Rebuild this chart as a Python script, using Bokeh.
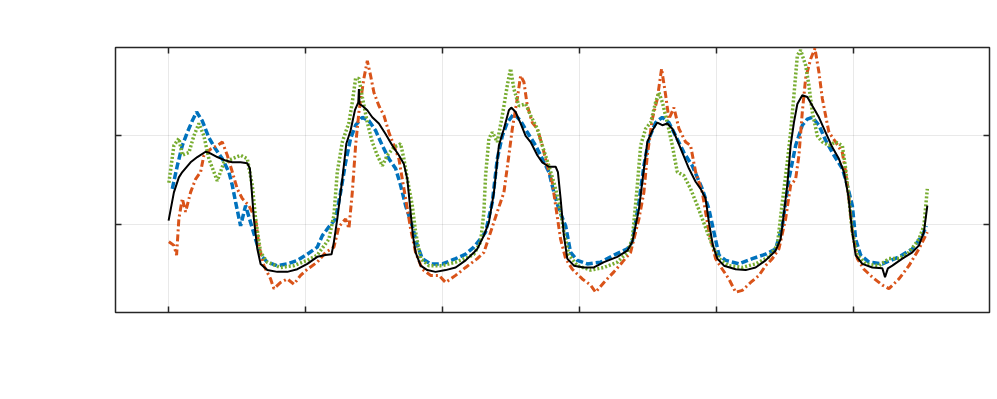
from bokeh.plotting import figure
from bokeh.models import Range1d, LinearAxis, FixedTicker, CustomJSTickFormatter
from bokeh.embed import file_html
from bokeh.resources import INLINE

# ---- data (hours, relative value) ----
x_ticks = [0, 24, 48, 72, 96, 120]
y_ticks = [1, 2]

meas_x = [0.0, 0.93, 1.80, 2.40, 3.85, 5.03, 6.48, 7.06, 8.53, 9.99, 11.16, 12.61, 13.79,
          14.24, 14.54, 14.94, 15.54, 16.12, 17.29, 19.04, 20.79, 22.55, 24.30, 26.05,
          27.50, 28.55, 28.96, 29.55, 30.43, 31.13, 31.88, 32.64, 33.23, 33.34, 33.45, 33.93,
          34.81, 35.68, 36.84, 38.01, 39.19, 40.34, 41.22, 41.82, 42.39, 42.80, 43.27,
          44.15, 45.32, 46.77, 48.53, 50.28, 52.03, 53.48, 54.08, 55.23, 56.11, 56.99,
          57.86, 58.74, 59.61, 60.03, 60.79, 61.66, 62.54, 63.42, 64.59, 65.46, 66.62,
          67.80, 68.20, 68.67, 69.25, 69.84, 71.00, 72.75, 74.50, 76.26, 78.60, 80.36,
          81.23, 82.39, 83.26, 83.86, 84.73, 85.61, 86.49, 87.36, 88.24, 89.11, 89.99,
          91.15, 92.32, 93.20, 94.07, 94.65, 95.35, 96.12, 97.28, 99.33, 101.08, 102.83,
          104.58, 106.33, 107.21, 107.51, 108.38, 108.96, 109.54, 110.14, 111.01, 111.89,
          112.76, 113.92, 115.09, 116.27, 117.42, 118.30, 119.07, 119.77, 120.35, 121.52,
          123.27, 125.03, 125.5, 126.0, 126.78, 128.53, 130.28, 131.44, 132.31, 132.91]
meas_y = [1.04, 1.36, 1.53, 1.59, 1.70, 1.76, 1.82, 1.81, 1.76, 1.72, 1.70, 1.70, 1.69,
          1.63, 1.40, 1.06, 0.72, 0.55, 0.48, 0.46, 0.46, 0.49, 0.55, 0.63,
          0.65, 0.66, 0.80, 1.06, 1.51, 1.91, 2.06, 2.29, 2.38, 2.53, 2.36, 2.34,
          2.29, 2.21, 2.14, 2.02, 1.89, 1.78, 1.68, 1.51, 1.14, 0.87, 0.68,
          0.53, 0.48, 0.46, 0.48, 0.51, 0.59, 0.68, 0.72, 0.87, 1.02, 1.36,
          1.89, 2.08, 2.29, 2.32, 2.27, 2.14, 2.00, 1.93, 1.78, 1.70, 1.65,
          1.65, 1.59, 1.29, 0.87, 0.61, 0.53, 0.51, 0.51, 0.57, 0.63, 0.70,
          0.80, 1.17, 1.63, 1.93, 2.06, 2.15, 2.12, 2.14, 2.08, 1.95, 1.81,
          1.63, 1.48, 1.40, 1.29, 1.02, 0.76, 0.61, 0.53, 0.49, 0.48, 0.51,
          0.59, 0.70, 0.83, 0.98, 1.44, 1.89, 2.15, 2.36, 2.46, 2.44,
          2.34, 2.21, 2.04, 1.87, 1.74, 1.59, 1.32, 0.91, 0.65, 0.55,
          0.51, 0.50, 0.40, 0.50, 0.53, 0.61, 0.68, 0.76, 0.91, 1.21]

blue_x = [0.65, 1.52, 2.40, 3.28, 4.15, 4.91, 5.90, 7.06, 8.23, 9.41, 10.56, 11.16, 11.74,
          12.61, 13.49, 14.36, 15.24, 16.12, 17.29, 19.04, 20.79, 22.55, 24.30, 26.05,
          26.93, 28.08, 29.26, 30.13, 31.01, 31.88, 32.76, 33.93, 35.09, 36.26, 37.44,
          38.59, 39.77, 40.64, 41.52, 42.69, 43.57, 44.44, 45.90, 47.95, 50.28, 52.03,
          53.48, 55.53, 56.71, 57.58, 58.46, 59.33, 60.49, 61.66, 62.84, 64.29, 65.46,
          66.62, 67.50, 68.37, 69.55, 70.42, 71.60, 73.35, 75.68, 78.01, 80.36, 81.23,
          82.39, 83.26, 84.14, 85.31, 86.49, 87.64, 88.82, 90.27, 91.74, 93.49, 94.65,
          95.53, 96.40, 97.58, 99.91, 102.25, 104.58, 106.33, 107.51, 108.66, 109.84,
          111.01, 111.89, 112.76, 113.92, 115.09, 116.55, 118.02, 118.89, 119.77, 120.35,
          121.22, 122.68, 125.03, 127.94, 130.28, 132.03, 132.73]
blue_y = [1.40, 1.66, 1.89, 2.04, 2.17, 2.27, 2.17, 1.98, 1.85, 1.74, 1.59, 1.44, 1.25,
          0.98, 1.21, 1.02, 0.83, 0.65, 0.57, 0.53, 0.55, 0.59, 0.66, 0.74,
          0.87, 0.97, 1.06, 1.36, 1.70, 1.97, 2.12, 2.21, 2.17, 2.06, 1.89,
          1.74, 1.63, 1.44, 1.21, 0.98, 0.76, 0.61, 0.55, 0.55, 0.61, 0.66,
          0.74, 0.91, 1.25, 1.74, 2.00, 2.15, 2.25, 2.17, 2.04, 1.89, 1.74,
          1.59, 1.36, 1.17, 0.98, 0.68, 0.59, 0.55, 0.57, 0.65, 0.72, 0.80,
          1.25, 1.66, 1.97, 2.15, 2.21, 2.15, 2.00, 1.81, 1.66, 1.40, 1.17,
          0.91, 0.65, 0.59, 0.55, 0.61, 0.66, 0.72, 0.98, 1.51, 1.89,
          2.12, 2.19, 2.21, 2.12, 1.95, 1.78, 1.63, 1.44, 1.21, 0.83,
          0.65, 0.57, 0.55, 0.63, 0.72, 0.87, 0.98]

orange_x = [0.05, 0.93, 1.40, 1.80, 2.40, 2.98, 3.85, 4.73, 5.61, 6.18, 7.36, 8.53, 9.41,
            10.28, 11.16, 12.03, 12.91, 14.07, 15.24, 15.82, 16.69, 17.87, 18.45, 19.62,
            20.79, 21.95, 23.12, 24.30, 26.05, 27.50, 28.96, 29.83, 31.01, 31.59, 32.18,
            32.76, 33.34, 34.21, 34.81, 35.39, 35.97, 36.84, 37.72, 38.59, 39.47, 40.34,
            40.94, 41.52, 42.39, 43.27, 44.44, 45.90, 47.35, 48.53, 50.28, 52.03, 54.08,
            55.23, 56.41, 57.58, 58.74, 59.61, 60.21, 61.08, 61.66, 62.24, 62.84, 63.71,
            64.59, 65.46, 66.34, 67.22, 67.80, 68.67, 69.55, 70.72, 72.47, 73.93, 74.80,
            76.26, 78.01, 79.48, 80.93, 82.39, 83.26, 83.86, 84.73, 85.61, 86.36, 87.07,
            87.64, 88.52, 89.40, 90.57, 91.44, 92.32, 93.49, 94.65, 95.82, 97.00, 98.15,
            99.33, 100.50, 101.96, 103.41, 104.58, 105.76, 106.91, 108.09, 108.96, 109.84,
            110.42, 111.01, 111.59, 112.47, 113.22, 113.92, 114.52, 115.09, 115.67, 116.85,
            118.02, 118.60, 119.18, 119.77, 120.65, 121.80, 123.27, 125.03, 126.18, 127.94,
            129.69, 131.44, 132.91]
orange_y = [0.80, 0.76, 0.65, 1.06, 1.29, 1.14, 1.36, 1.51, 1.59, 1.78, 1.85, 1.89, 1.93,
            1.78, 1.59, 1.40, 1.29, 1.21, 1.06, 0.76, 0.53, 0.38, 0.27, 0.34,
            0.38, 0.32, 0.42, 0.49, 0.57, 0.68, 0.74, 0.97, 1.06, 0.95, 1.36,
            1.89, 2.27, 2.65, 2.85, 2.68, 2.49, 2.34, 2.23, 2.04, 1.89, 1.74,
            1.51, 1.29, 0.95, 0.68, 0.49, 0.42, 0.42, 0.34, 0.42, 0.51, 0.61,
            0.68, 0.91, 1.14, 1.36, 1.78, 2.08, 2.42, 2.68, 2.61, 2.34, 2.15,
            2.08, 1.89, 1.66, 1.47, 1.21, 0.83, 0.61, 0.49, 0.38, 0.31, 0.23,
            0.34, 0.46, 0.57, 0.68, 1.06, 1.36, 1.78, 2.19, 2.42, 2.76, 2.46,
            2.19, 2.32, 2.08, 1.93, 1.89, 1.59, 1.36, 0.91, 0.61, 0.49, 0.38,
            0.23, 0.25, 0.34, 0.42, 0.53, 0.61, 0.72, 1.06, 1.44, 1.51,
            1.78, 2.27, 2.65, 2.87, 2.99, 2.72, 2.42, 2.23, 2.04, 1.93,
            1.81, 1.59, 1.29, 0.91, 0.61, 0.49, 0.40, 0.31, 0.27, 0.38,
            0.53, 0.72, 0.91]

green_x = [0.05, 0.93, 1.80, 2.40, 3.56, 4.43, 5.31, 6.18, 7.06, 7.94, 8.53, 9.69, 11.16,
           12.61, 13.79, 14.66, 15.24, 16.12, 17.29, 19.62, 21.95, 24.30, 26.05, 28.08,
           28.96, 29.55, 30.43, 31.59, 32.18, 32.76, 33.34, 33.93, 34.81, 35.68, 36.56,
           37.44, 38.31, 39.47, 40.64, 41.22, 41.82, 42.69, 43.27, 44.15, 45.60, 47.95,
           50.28, 52.61, 53.48, 54.66, 55.23, 55.53, 56.11, 56.71, 57.58, 58.46, 59.33,
           59.91, 60.49, 61.36, 62.54, 63.42, 64.59, 65.46, 66.62, 67.50, 68.37, 69.25,
           70.13, 71.60, 73.93, 76.26, 78.60, 80.36, 81.23, 82.11, 82.69, 83.56, 84.44,
           85.31, 85.89, 86.49, 87.36, 88.24, 89.11, 90.27, 91.44, 92.62, 93.49, 94.37,
           95.25, 96.40, 98.15, 100.50, 102.83, 105.16, 106.63, 107.51, 108.38, 108.96,
           109.54, 110.14, 110.71, 111.59, 112.17, 112.76, 113.64, 114.52, 115.67, 116.85,
           118.02, 118.60, 119.18, 119.77, 120.65, 122.10, 124.43, 126.18, 127.94, 129.69,
           131.44, 132.31, 132.91]
green_y = [1.47, 1.89, 1.97, 1.78, 1.81, 2.00, 2.14, 2.00, 1.74, 1.59, 1.49, 1.70, 1.74,
           1.78, 1.74, 1.44, 1.06, 0.68, 0.57, 0.51, 0.53, 0.59, 0.65, 0.83,
           1.10, 1.59, 1.93, 2.15, 2.38, 2.65, 2.65, 2.44, 2.15, 1.93, 1.78,
           1.66, 1.78, 1.87, 1.91, 1.74, 1.51, 1.21, 0.91, 0.61, 0.53, 0.53,
           0.57, 0.63, 0.66, 0.80, 1.14, 1.55, 1.97, 2.04, 1.93, 2.23, 2.57,
           2.76, 2.53, 2.34, 2.36, 2.23, 2.08, 1.89, 1.66, 1.47, 1.25, 0.91,
           0.65, 0.53, 0.48, 0.51, 0.57, 0.68, 0.83, 1.44, 1.89, 2.08, 2.15,
           2.38, 2.49, 2.38, 2.15, 1.89, 1.59, 1.55, 1.40, 1.21, 1.06, 0.91,
           0.76, 0.61, 0.53, 0.51, 0.55, 0.63, 0.76, 1.25, 1.70, 2.04,
           2.46, 2.91, 2.97, 2.80, 2.57, 2.27, 2.00, 1.93, 1.89, 1.93,
           1.89, 1.63, 1.29, 0.91, 0.65, 0.55, 0.53, 0.61, 0.61, 0.68,
           0.83, 0.98, 1.40]

# ---- figure ----
p = figure(frame_width=874, frame_height=265, output_backend="svg", toolbar_location=None,
           x_range=Range1d(-9.3, 143.8), y_range=Range1d(0, 3),
           min_border_left=115, min_border_top=47, min_border_right=7, min_border_bottom=70,
           background_fill_color="white", border_fill_color="white")
p.outline_line_color = "#262626"
p.outline_line_width = 1.5

blank = CustomJSTickFormatter(code="return ''")

def style_axis(ax, ticks):
    ax.ticker = FixedTicker(ticks=ticks)
    ax.formatter = blank
    ax.axis_line_color = None
    ax.major_tick_in = 6
    ax.major_tick_out = 0
    ax.major_tick_line_color = "#262626"
    ax.major_tick_line_width = 1.5
    ax.minor_tick_line_color = None
    ax.major_label_standoff = 0

style_axis(p.xaxis[0], x_ticks)
style_axis(p.yaxis[0], y_ticks)
top = LinearAxis()
right = LinearAxis()
p.add_layout(top, "above")
p.add_layout(right, "right")
style_axis(top, x_ticks)
style_axis(right, y_ticks)

p.xgrid.ticker = FixedTicker(ticks=x_ticks)
p.ygrid.ticker = FixedTicker(ticks=y_ticks)
for g in (p.xgrid[0], p.ygrid[0]):
    g.grid_line_color = "#262626"
    g.grid_line_alpha = 0.1
    g.grid_line_width = 1

p.line(blue_x, blue_y, line_color="#0072BD", line_width=3.5, line_dash="7 3")
p.line(orange_x, orange_y, line_color="#D95319", line_width=3, line_dash="7 3 2 3")
p.line(green_x, green_y, line_color="#77AC30", line_width=3.5, line_dash="2 2")
p.line(meas_x, meas_y, line_color="#000000", line_width=2)

open("out.html", "w").write(file_html(p, INLINE))
